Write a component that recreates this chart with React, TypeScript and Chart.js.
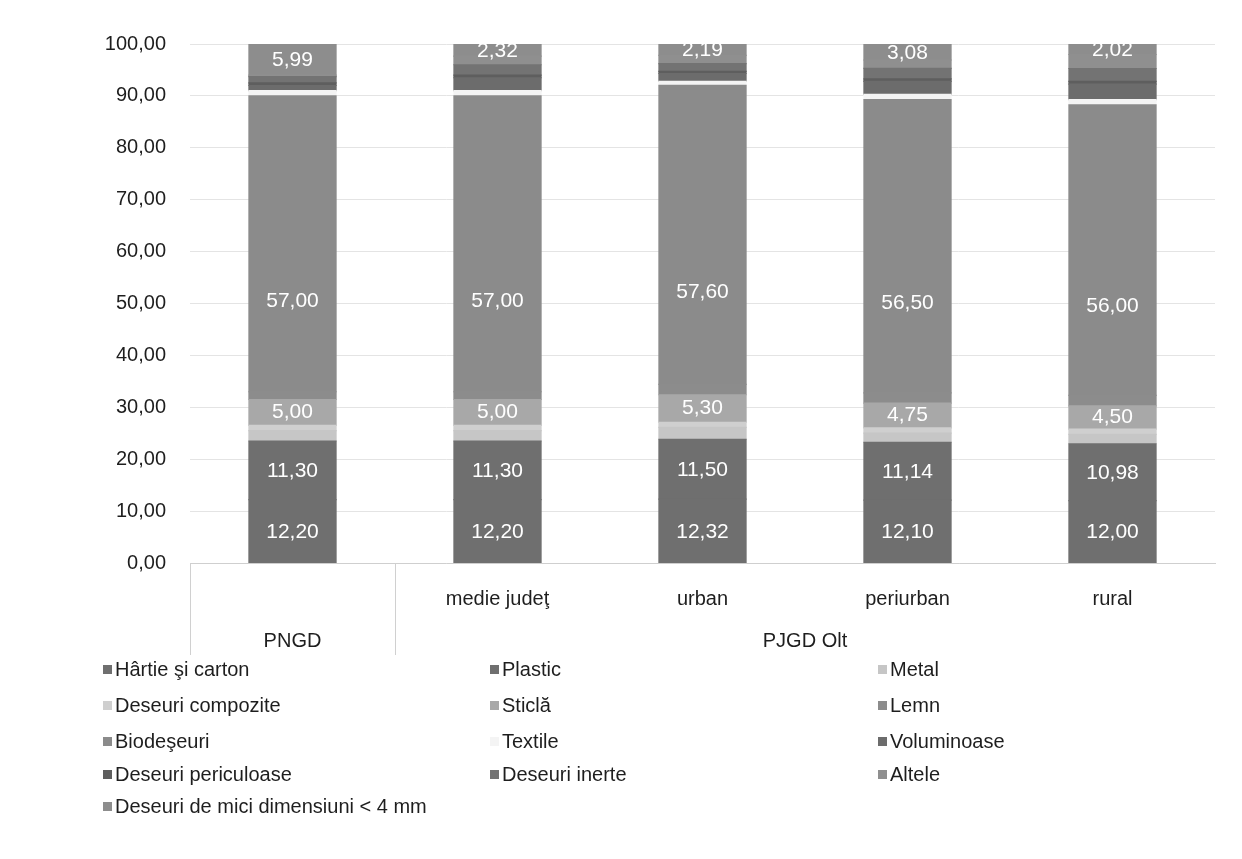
import React, { useEffect, useRef } from "react";
import { Chart, registerables } from "chart.js";

Chart.register(...registerables);

// ---- data ----
const categoryLabels = ["", "medie judeţ", "urban", "periurban", "rural"];
const groupLabels = ["PNGD", "PJGD Olt"];
const groupStarts = [0, 1];
const groupSizes = [1, 4];

const seriesNames = [
  "Hârtie şi carton",
  "Plastic",
  "Metal",
  "Deseuri compozite",
  "Sticlă",
  "Lemn",
  "Biodeşeuri",
  "Textile",
  "Voluminoase",
  "Deseuri periculoase",
  "Deseuri inerte",
  "Altele",
  "Deseuri de mici dimensiuni < 4 mm",
];

const hartie = [12.2, 12.2, 12.32, 12.1, 12.0];
const plastic = [11.3, 11.3, 11.5, 11.14, 10.98];
const metal = [2.0, 2.0, 2.3, 1.8, 1.8];
const compozite = [1.0, 1.0, 1.0, 1.0, 1.0];
const sticla = [5.0, 5.0, 5.3, 4.75, 4.5];
const lemn = [1.5, 1.5, 2.0, 2.0, 2.0];
const biodeseuri = [57.0, 57.0, 57.6, 56.5, 56.0];
const textile = [1.0, 1.0, 0.8, 1.0, 1.0];
const voluminoase = [1.0, 2.5, 1.5, 2.5, 3.0];
const periculoase = [0.5, 0.5, 0.4, 0.5, 0.5];
const inerte = [1.2, 2.0, 1.5, 2.0, 2.5];
const altele = [0.31, 1.68, 1.59, 1.63, 2.7];
const mici = [5.99, 2.32, 2.19, 3.08, 2.02];

const seriesValues = [
  hartie, plastic, metal, compozite, sticla, lemn, biodeseuri,
  textile, voluminoase, periculoase, inerte, altele, mici,
];

// ---- style ----
const seriesColors = [
  "#6f6f6f", "#6f6f6f", "#c6c6c6", "#cfcfcf", "#a8a8a8", "#8c8c8c", "#8b8b8b",
  "#f4f4f4", "#6c6c6c", "#5e5e5e", "#737373", "#8f8f8f", "#8d8d8d",
];
// which series carry a value label, and where inside the segment (0 = bottom, 1 = top)
const labeledSeries = [0, 1, 4, 6, 12];
const labelAnchor: Record<number, number> = { 0: 0.5, 1: 0.5, 4: 0.55, 6: 0.31, 12: 0.5 };

const fmt = (v: number) => v.toFixed(2).replace(".", ",");
const FONT = '"Liberation Sans", Arial, sans-serif';

const segLabels = {
  id: "segLabels",
  afterDatasetsDraw(chart: any) {
    const ctx = chart.ctx;
    ctx.save();
    ctx.fillStyle = "#ffffff";
    ctx.font = `21px ${FONT}`;
    ctx.textAlign = "center";
    ctx.textBaseline = "middle";
    chart.data.datasets.forEach((ds: any, i: number) => {
      if (!labeledSeries.includes(i)) return;
      const f = labelAnchor[i];
      const meta = chart.getDatasetMeta(i);
      meta.data.forEach((bar: any, j: number) => {
        const p = bar.getProps(["x", "y", "base"], true);
        const yy = p.base + (p.y - p.base) * f;
        ctx.fillText(fmt(ds.data[j]), p.x, yy + 1);
      });
    });
    ctx.restore();
  },
};

const groupAxis = {
  id: "groupAxis",
  afterDraw(chart: any) {
    const ctx = chart.ctx;
    const xs = chart.scales.x;
    const area = chart.chartArea;
    const step = xs.getPixelForValue(1) - xs.getPixelForValue(0);
    ctx.save();
    ctx.fillStyle = "#1e1e1e";
    ctx.font = `20px ${FONT}`;
    ctx.textAlign = "center";
    ctx.textBaseline = "middle";
    categoryLabels.forEach((lab, i) => {
      if (lab) ctx.fillText(lab, xs.getPixelForValue(i), area.bottom + 36);
    });
    groupLabels.forEach((lab, g) => {
      const a = xs.getPixelForValue(groupStarts[g]) - step / 2;
      const b = xs.getPixelForValue(groupStarts[g] + groupSizes[g] - 1) + step / 2;
      ctx.fillText(lab, (a + b) / 2, area.bottom + 78);
    });
    ctx.strokeStyle = "#d0d0d0";
    ctx.lineWidth = 1;
    groupStarts.forEach((s) => {
      const x = Math.round(xs.getPixelForValue(s) - step / 2) + 0.5;
      ctx.beginPath();
      ctx.moveTo(x, area.bottom);
      ctx.lineTo(x, area.bottom + 92);
      ctx.stroke();
    });
    ctx.restore();
  },
};

export default function App() {
  const ref = useRef<HTMLCanvasElement>(null);

  useEffect(() => {
    const chart = new Chart(ref.current as HTMLCanvasElement, {
      type: "bar",
      data: {
        labels: categoryLabels,
        datasets: seriesNames.map((name, i) => ({
          label: name,
          data: seriesValues[i],
          backgroundColor: seriesColors[i],
          borderWidth: 0,
          inflateAmount: 0.6,
          barPercentage: 0.425,
          categoryPercentage: 1,
        })),
      },
      options: {
        animation: false,
        responsive: true,
        maintainAspectRatio: false,
        layout: { padding: { top: 32, right: 19, bottom: 0, left: 0 } },
        plugins: { legend: { display: false }, tooltip: { enabled: false } },
        scales: {
          x: {
            stacked: true,
            ticks: { display: false },
            grid: { display: false },
            border: { display: true, color: "#cfcfcf" },
            afterFit: (s: any) => {
              s.height = 288;
            },
          },
          y: {
            stacked: true,
            min: 0,
            max: 100,
            ticks: {
              stepSize: 10,
              color: "#1e1e1e",
              font: { family: FONT, size: 20 },
              padding: 24,
              callback: (v: any) => fmt(Number(v)),
            },
            grid: { color: "#e4e4e4", drawTicks: false },
            border: { display: false },
            afterFit: (s: any) => {
              s.width = 182;
            },
          },
        },
      },
      plugins: [segLabels, groupAxis],
    });
    return () => chart.destroy();
  }, []);

  const colX = [95, 482, 870];
  const rowY = [661, 697, 733, 766, 798];

  return (
    <div style={{ position: "relative", width: 1226, height: 843, background: "#fff" }}>
      <div style={{ position: "absolute", left: 0, top: 0, width: 1226, height: 843 }}>
        <canvas ref={ref} />
      </div>
      {seriesNames.map((name, i) => {
        const r = Math.floor(i / 3);
        const c = i % 3;
        return (
          <div
            key={name}
            style={{
              position: "absolute",
              left: colX[c],
              top: rowY[r] - 12,
              height: 24,
              display: "flex",
              alignItems: "center",
              fontFamily: FONT,
              fontSize: 20,
              color: "#1e1e1e",
              whiteSpace: "nowrap",
            }}
          >
            <span
              style={{
                display: "inline-block",
                width: 9,
                height: 9,
                background: seriesColors[i],
                marginRight: 3,
              }}
            />
            {name}
          </div>
        );
      })}
    </div>
  );
}
